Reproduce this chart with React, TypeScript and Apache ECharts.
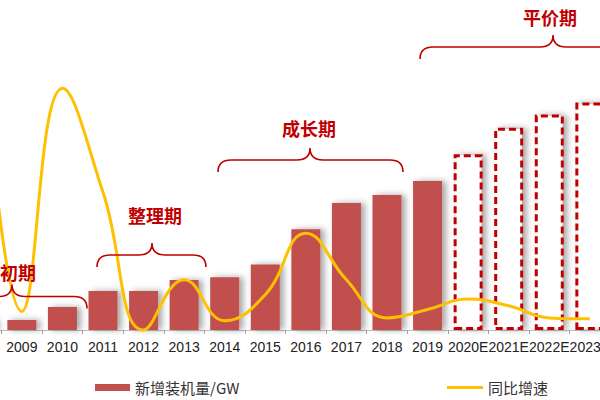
import React, { useEffect, useRef } from "react";
import * as echarts from "echarts";

const categories = ["2008", "2009", "2010", "2011", "2012", "2013", "2014", "2015", "2016", "2017", "2018", "2019", "2020E", "2021E", "2022E", "2023E"];
const installed = [6.7, 7.5, 17.3, 29.3, 29.3, 37.6, 39.7, 49.2, 75.8, 95.5, 101.5, 112, 132, 152, 162, 171];
const forecast = [false, false, false, false, false, false, false, false, false, false, false, false, true, true, true, true];
const growth = [170, 10, 130, 74, 0, 27, 5, 19, 52, 27, 6.5, 11, 16.6, 13, 6.5, 6];

const barName = "新增装机量/GW";
const lineName = "同比增速";

const RED = "#C00000";

// chart is wider than the window and shifted left, so that 2008 lies off-screen
const SHIFT = 39;
const CHART_W = 652;

const braces = [
  { label: "初期", x1: -80, x2: 87, xc: 12, y: 296.5, tx: 0, ty: 272, align: "left" },
  { label: "整理期", x1: 97, x2: 206, xc: 152, y: 255, tx: 155, ty: 215, align: "center" },
  { label: "成长期", x1: 218, x2: 403, xc: 310, y: 160, tx: 309, ty: 128, align: "center" },
  { label: "平价期", x1: 420, x2: 700, xc: 553, y: 47, tx: 550, ty: 17, align: "center" },
];

const R = 13;
const DOWN = 12;
const UP = 12;

braces.forEach((b, i) => {
  const a = b.x1 - b.xc;
  const c = b.x2 - b.xc;
  const d = `M ${a} ${DOWN} Q ${a} 0 ${a + R} 0 L ${-R} 0 Q 0 0 0 ${-UP} Q 0 0 ${R} 0 L ${c - R} 0 Q ${c} 0 ${c} ${DOWN}`;
  echarts.graphic.registerShape("brace" + i, echarts.graphic.extendPath(d, {}));
});

export default function App() {
  const ref = useRef<HTMLDivElement>(null);
  useEffect(() => {
    if (!ref.current) return;
    const chart = echarts.init(ref.current, null, { renderer: "svg" });
    const barData = installed.map((v, i) =>
      forecast[i]
        ? {
            value: v,
            itemStyle: {
              color: "#ffffff",
              borderColor: RED,
              borderWidth: 3,
              borderType: [7, 4],
            },
          }
        : { value: v }
    );
    const graphics: any[] = [];
    braces.forEach((b, i) => {
      graphics.push({
        type: "brace" + i,
        x: b.xc + SHIFT,
        y: b.y,
        style: { fill: "none", stroke: RED, lineWidth: 1.6 },
        z: 100,
      });
      graphics.push({
        type: "text",
        x: b.tx + SHIFT,
        y: b.ty,
        style: {
          text: b.label,
          fill: RED,
          font: 'bold 18px "Noto Sans CJK SC"',
          align: b.align,
          verticalAlign: "middle",
        },
        z: 100,
      });
    });
    chart.setOption({
      animation: false,
      grid: { left: 0, right: 0, top: 0, bottom: 70 },
      xAxis: {
        type: "category",
        data: categories,
        axisLine: { lineStyle: { color: "#BFBFBF", width: 1 } },
        axisTick: { show: true, length: 4, lineStyle: { color: "#A6A6A6" } },
        axisLabel: {
          interval: 0,
          fontSize: 14,
          color: "#222",
          fontFamily: "Liberation Sans",
          margin: 10,
        },
      },
      yAxis: [
        { type: "value", min: 0, max: 248, show: false, splitLine: { show: false } },
        { type: "value", min: 0, max: 177.4, show: false, splitLine: { show: false } },
      ],
      legend: [
        {
          data: [barName],
          left: 90 + SHIFT,
          top: 375,
          itemWidth: 35,
          itemHeight: 7,
          icon: "rect",
          textStyle: { fontSize: 15, color: "#333", fontFamily: "Noto Sans CJK SC" },
        },
        {
          data: [lineName],
          left: 442 + SHIFT,
          top: 375,
          itemWidth: 36,
          itemHeight: 3,
          icon: "rect",
          textStyle: { fontSize: 15, color: "#333", fontFamily: "Noto Sans CJK SC" },
        },
      ],
      series: [
        {
          name: barName,
          type: "bar",
          data: barData,
          barWidth: 29,
          itemStyle: {
            color: "#C0504D",
            shadowColor: "rgba(0,0,0,0.35)",
            shadowBlur: 6,
            shadowOffsetX: 4,
            shadowOffsetY: 0,
          },
          z: 2,
        },
        {
          name: lineName,
          type: "line",
          yAxisIndex: 1,
          data: growth,
          smooth: 0.45,
          symbol: "none",
          clip: false,
          lineStyle: { color: "#FFC000", width: 3 },
          itemStyle: { color: "#FFC000" },
          z: 5,
        },
      ],
      graphic: graphics,
    });
    return () => chart.dispose();
  }, []);
  return (
    <div style={{ position: "fixed", left: 0, top: 0, width: 600, height: 400, overflow: "hidden", background: "#fff" }}>
      <div ref={ref} style={{ position: "absolute", left: -SHIFT, top: 0, width: CHART_W, height: 400 }} />
    </div>
  );
}
